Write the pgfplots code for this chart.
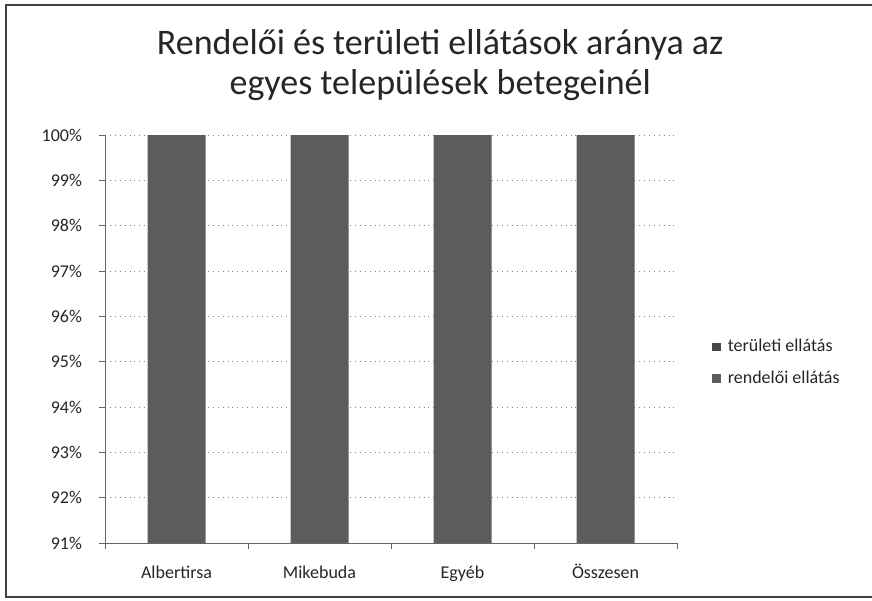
\documentclass[border=0pt]{standalone}
\usepackage{pgfplots}
\pgfplotsset{compat=1.18}
\usepackage{fontspec}
\setmainfont{Carlito}
\definecolor{bargray}{gray}{0.36}
\definecolor{bardark}{gray}{0.28}
\begin{document}
\begin{tikzpicture}[x=1pt,y=1pt]
\path[use as bounding box] (0,0) rectangle (436,300);
\draw[black!75, line width=0.6pt] (436,297.5) -- (3,297.5) -- (3,1.5) -- (436,1.5);
\begin{axis}[
  at={(52.5pt,28.5pt)}, anchor=south west,
  scale only axis, width=286pt, height=204pt,
  ybar stacked, bar width=29pt,
  xmin=-0.5, xmax=3.5, ymin=91, ymax=100,
  xtick={0,1,2,3},
  xticklabels={Albertirsa, Mikebuda, Egyéb, Összesen},
  minor xtick={-0.5,0.5,1.5,2.5,3.5},
  ytick={91,92,...,100},
  yticklabels={91\%,92\%,93\%,94\%,95\%,96\%,97\%,98\%,99\%,100\%},
  axis x line*=bottom, axis y line*=left,
  axis line style={-, black!60, line width=0.5pt},
  tick align=outside,
  x tick style={draw=none},
  minor x tick style={draw=black!60, line width=0.5pt},
  minor tick length=3pt,
  y tick style={black!60, line width=0.5pt},
  major tick length=3pt,
  ymajorgrids,
  grid style={black!50, line width=0.45pt, dotted},
  tick label style={font=\fontsize{9}{10}\selectfont, text=black!85},
  xticklabel style={yshift=-3pt, text height=8pt, text depth=2pt},
  yticklabel style={xshift=-5pt},
  title={Rendelői és területi ellátások aránya az\\egyes települések betegeinél},
  title style={at={(axis description cs:0.586,1.143)}, anchor=center, align=center,
    font=\fontsize{18}{20}\selectfont, text=black!85},
  legend style={draw=none, fill=none, at={(axis description cs:1.05,0.442)}, anchor=west,
    font=\fontsize{9}{10}\selectfont, text=black!85, row sep=4pt, legend cell align=left},
  reverse legend,
  legend image code/.code={\fill[#1] (0pt,-2.2pt) rectangle (4.4pt,2.2pt);},
]
\addplot[fill=bargray, draw=none] coordinates {(0,100) (1,100) (2,100) (3,100)};
\addlegendentry{\,rendelői ellátás}
\addplot[fill=bardark, draw=none] coordinates {(0,0) (1,0) (2,0) (3,0)};
\addlegendentry{\,területi ellátás}
\end{axis}
\end{tikzpicture}
\end{document}
